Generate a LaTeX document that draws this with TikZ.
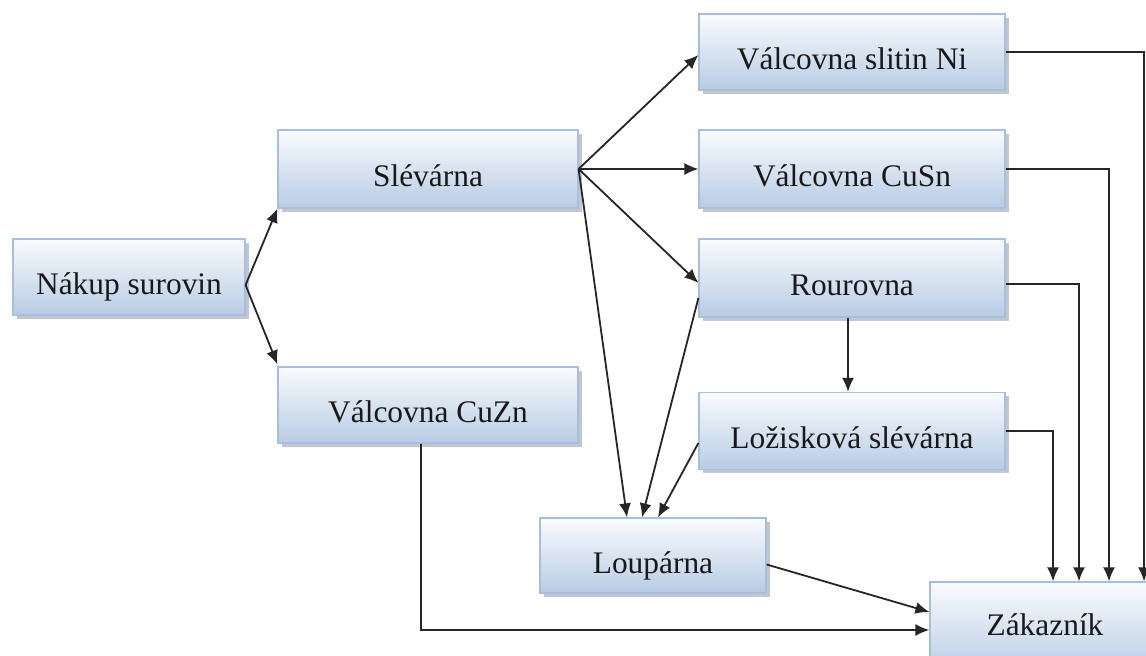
\documentclass[tikz,border=0pt]{standalone}
\usepackage{fontspec}
\setmainfont{Liberation Serif}
\usetikzlibrary{calc,arrows.meta,shadows}
\definecolor{boxtop}{HTML}{FAFBFE}
\definecolor{boxbot}{HTML}{B8CCE4}
\definecolor{boxline}{HTML}{A6BFDD}
\definecolor{shade}{HTML}{8E9AAA}
\tikzset{
  unit/.style={rectangle, draw=boxline, line width=0.6pt, top color=boxtop, bottom color=boxbot,
    inner sep=0pt, font=\fontsize{15.7pt}{18pt}\selectfont, text=black!90,
    text height=18pt, text depth=0pt,
    drop shadow={shadow xshift=2pt, shadow yshift=-2pt, opacity=0.55, fill=shade}},
  wide/.style={minimum width=150pt, minimum height=38pt},
  conn/.style={line width=0.9pt, draw=black!85, -{Latex[length=7pt,width=6pt]}},
}
\begin{document}
\begin{tikzpicture}[x=0.5pt,y=-0.5pt]
\path[use as bounding box, clip] (0,0) rectangle (1146,656);
\fill[white] (0,0) rectangle (1146,656);
\node[unit, minimum width=116pt, minimum height=38pt] (nakup) at (129,277) {Nákup surovin};
\node[unit, wide, minimum height=39pt] (slev) at (428,169) {Slévárna};
\node[unit, wide] (cuzn) at (428,405) {Válcovna CuZn};
\node[unit, wide, minimum width=153pt] (ni) at (852,52) {Válcovna slitin Ni};
\node[unit, wide, minimum width=153pt, minimum height=39pt] (cusn) at (852,169) {Válcovna CuSn};
\node[unit, wide, minimum width=153pt, minimum height=39pt] (rour) at (852,278) {Rourovna};
\node[unit, wide, minimum width=153pt, minimum height=38.5pt] (loz) at (852,431) {Ložisková slévárna};
\node[unit, minimum width=113pt, minimum height=37.5pt] (loup) at (653,555.5) {Loupárna};
\node[unit, minimum width=115pt, minimum height=46pt, text height=11pt, text depth=3.5pt] (zak) at (1045,628) {Zákazník};

\draw[conn] ($(nakup.east)+(0,8)$) -- (slev.south west);
\draw[conn] ($(nakup.east)+(0,8)$) -- ($(cuzn.north west)+(0,-2)$);
\draw[conn] (slev.east) -- ($(ni.west)+(0,3)$);
\draw[conn] (slev.east) -- (cusn.west);
\draw[conn] (slev.east) -- ($(rour.west)+(0,5)$);
\draw[conn] (slev.east) -- ($(loup.north)+(-26,0)$);
\draw[conn] ($(rour.west)+(0,20)$) -- ($(loup.north)+(-11,0)$);
\draw[conn] ($(loz.west)+(0,12)$) -- ($(loup.north)+(5,0)$);
\draw[conn] ($(rour.south)+(-4,0)$) -- ($(loz.north)+(-4,0)$);
\draw[conn] (ni.east) -| ($(zak.north)+(99,0)$);
\draw[conn] (cusn.east) -| ($(zak.north)+(64,0)$);
\draw[conn] ($(rour.east)+(0,6)$) -| ($(zak.north)+(34,0)$);
\draw[conn] (loz.east) -| ($(zak.north)+(8,0)$);
\draw[conn] ($(loup.east)+(0,9)$) -- ($(zak.west)+(0,-16)$);
\draw[conn] ($(cuzn.south)+(-7,0)$) |- ($(zak.west)+(0,2)$);
\end{tikzpicture}
\end{document}
